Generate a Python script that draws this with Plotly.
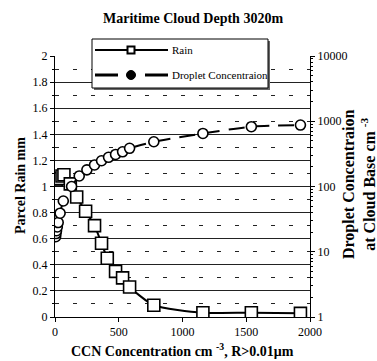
import plotly.graph_objects as go

# ---- data ----
rain_ccn = [10, 30, 55, 70, 120, 170, 240, 310, 365, 410, 475, 530, 585, 775, 1160, 1540, 1925]
rain_mm = [1.05, 1.06, 1.08, 1.09, 1.02, 0.92, 0.81, 0.70, 0.565, 0.45, 0.35, 0.30, 0.23, 0.09, 0.033, 0.033, 0.028]

drop_ccn = [5, 8, 12, 18, 25, 40, 65, 130, 190, 250, 310, 365, 420, 475, 530, 585, 775, 1160, 1540, 1925]
drop_conc = [17, 19, 21, 24, 28, 39, 60, 100, 145, 180, 214, 248, 280, 310, 340, 385, 485, 650, 825, 875]

x_ticks = [0, 500, 1000, 1500, 2000]
y_ticks = [0, 0.2, 0.4, 0.6, 0.8, 1, 1.2, 1.4, 1.6, 1.8, 2]
y_tick_text = ["0", "0.2", "0.4", "0.6", "0.8", "1", "1.2", "1.4", "1.6", "1.8", "2"]
y2_ticks = [1, 10, 100, 1000, 10000]
y2_tick_text = ["1", "10", "100", "1000", "10000"]

W, H = 377, 361
L, R, T, B = 55, 310, 56, 317

FONT = "Liberation Serif"

fig = go.Figure()
fig.add_trace(go.Scatter(
    x=rain_ccn, y=rain_mm, name="Rain", mode="lines+markers",
    line=dict(color="black", width=2, shape="spline", smoothing=0.6),
    marker=dict(symbol="square", size=12, color="white", line=dict(color="black", width=1.6)),
    yaxis="y", showlegend=False))
fig.add_trace(go.Scatter(
    x=drop_ccn, y=drop_conc, name="Droplet Concentraion", mode="lines+markers",
    line=dict(color="black", width=2, dash="16px,9px", shape="spline", smoothing=0.6),
    marker=dict(symbol="circle", size=10, color="white", line=dict(color="black", width=1.6)),
    yaxis="y2", showlegend=False))

def fx(px):
    return (px - L) / (R - L)

def fy(py):
    return (B - py) / (B - T)

shapes = []
# legend box with shadow
shapes.append(dict(type="rect", xref="paper", yref="paper", x0=fx(94), x1=fx(270), y0=fy(90), y1=fy(41),
                   line=dict(width=0), fillcolor="#666", layer="above"))
shapes.append(dict(type="rect", xref="paper", yref="paper", x0=fx(92), x1=fx(268), y0=fy(88), y1=fy(39),
                   line=dict(color="black", width=1), fillcolor="white", layer="above"))
# Rain entry
shapes.append(dict(type="line", xref="paper", yref="paper", x0=fx(95), x1=fx(168), y0=fy(50), y1=fy(50),
                   line=dict(color="black", width=2), layer="above"))
shapes.append(dict(type="rect", xref="paper", yref="paper", x0=fx(127.5), x1=fx(134.5), y0=fy(53.5), y1=fy(46.5),
                   line=dict(color="black", width=2), fillcolor="white", layer="above"))
# Droplet entry
shapes.append(dict(type="line", xref="paper", yref="paper", x0=fx(95), x1=fx(118), y0=fy(75), y1=fy(75),
                   line=dict(color="black", width=3), layer="above"))
shapes.append(dict(type="line", xref="paper", yref="paper", x0=fx(145), x1=fx(168), y0=fy(75), y1=fy(75),
                   line=dict(color="black", width=3), layer="above"))
shapes.append(dict(type="circle", xref="paper", yref="paper", x0=fx(126.5), x1=fx(135.5), y0=fy(79.5), y1=fy(70.5),
                   line=dict(color="black", width=1), fillcolor="black", layer="above"))

annotations = [
    dict(text="Rain", xref="paper", yref="paper", x=fx(170), y=fy(50), xanchor="left", yanchor="middle",
         showarrow=False, font=dict(family=FONT, size=11, color="black")),
    dict(text="Droplet Concentraion", xref="paper", yref="paper", x=fx(170), y=fy(75), xanchor="left",
         yanchor="middle", showarrow=False, font=dict(family=FONT, size=11, color="black")),
    # title
    dict(text="<b>Maritime Cloud Depth 3020m</b>", xref="paper", yref="paper", x=fx(193), y=fy(19),
         xanchor="center", yanchor="middle", showarrow=False, font=dict(family=FONT, size=14, color="black")),
    # x axis title
    dict(text="<b>CCN Concentration cm <sup>-3</sup>, R>0.01μm</b>", xref="paper", yref="paper", x=fx(182),
         y=fy(350), xanchor="center", yanchor="middle", showarrow=False,
         font=dict(family=FONT, size=14, color="black")),
    # left axis title
    dict(text="<b>Parcel Rain mm</b>", xref="paper", yref="paper", x=fx(20), y=fy(186), textangle=-90,
         xanchor="center", yanchor="middle", showarrow=False, font=dict(family=FONT, size=14, color="black")),
    # right axis title
    dict(text="<b>Droplet Concentraion<br>at Cloud Base cm <sup>-3</sup></b>", xref="paper", yref="paper",
         x=fx(359), y=fy(184), textangle=-90, xanchor="center", yanchor="middle", showarrow=False,
         font=dict(family=FONT, size=16, color="black")),
]

fig.update_layout(
    width=W, height=H,
    margin=dict(l=L, r=W - R, t=T, b=H - B, pad=0),
    paper_bgcolor="white", plot_bgcolor="white",
    font=dict(family=FONT, size=12, color="black"),
    xaxis=dict(range=[0, 2000], tickvals=x_ticks, ticks="outside", ticklen=4, tickcolor="black",
               showline=True, linecolor="black", linewidth=1, showgrid=False, zeroline=False,
               automargin=False, tickfont=dict(family=FONT, size=12)),
    yaxis=dict(range=[0, 2], tickvals=y_ticks, ticktext=y_tick_text, ticks="outside", ticklen=4,
               tickcolor="black", showline=True, linecolor="black", linewidth=1,
               showgrid=True, gridcolor="#222", gridwidth=1, zeroline=False, automargin=False,
               minor=dict(dtick=0.1, ticks="outside", ticklen=2, tickcolor="black",
                          showgrid=True, gridcolor="#222", gridwidth=1, griddash="4px,14px"),
               tickfont=dict(family=FONT, size=12)),
    yaxis2=dict(type="log", range=[0, 4], overlaying="y", side="right", tickvals=y2_ticks,
                ticktext=y2_tick_text, ticks="outside", ticklen=4, tickcolor="black",
                showline=True, linecolor="black", linewidth=1, showgrid=False, zeroline=False,
                automargin=False,
                minor=dict(dtick="D1", ticks="outside", ticklen=2, tickcolor="black", showgrid=False),
                tickfont=dict(family=FONT, size=12)),
    shapes=shapes,
    annotations=annotations,
)

fig.write_html("out.html")
